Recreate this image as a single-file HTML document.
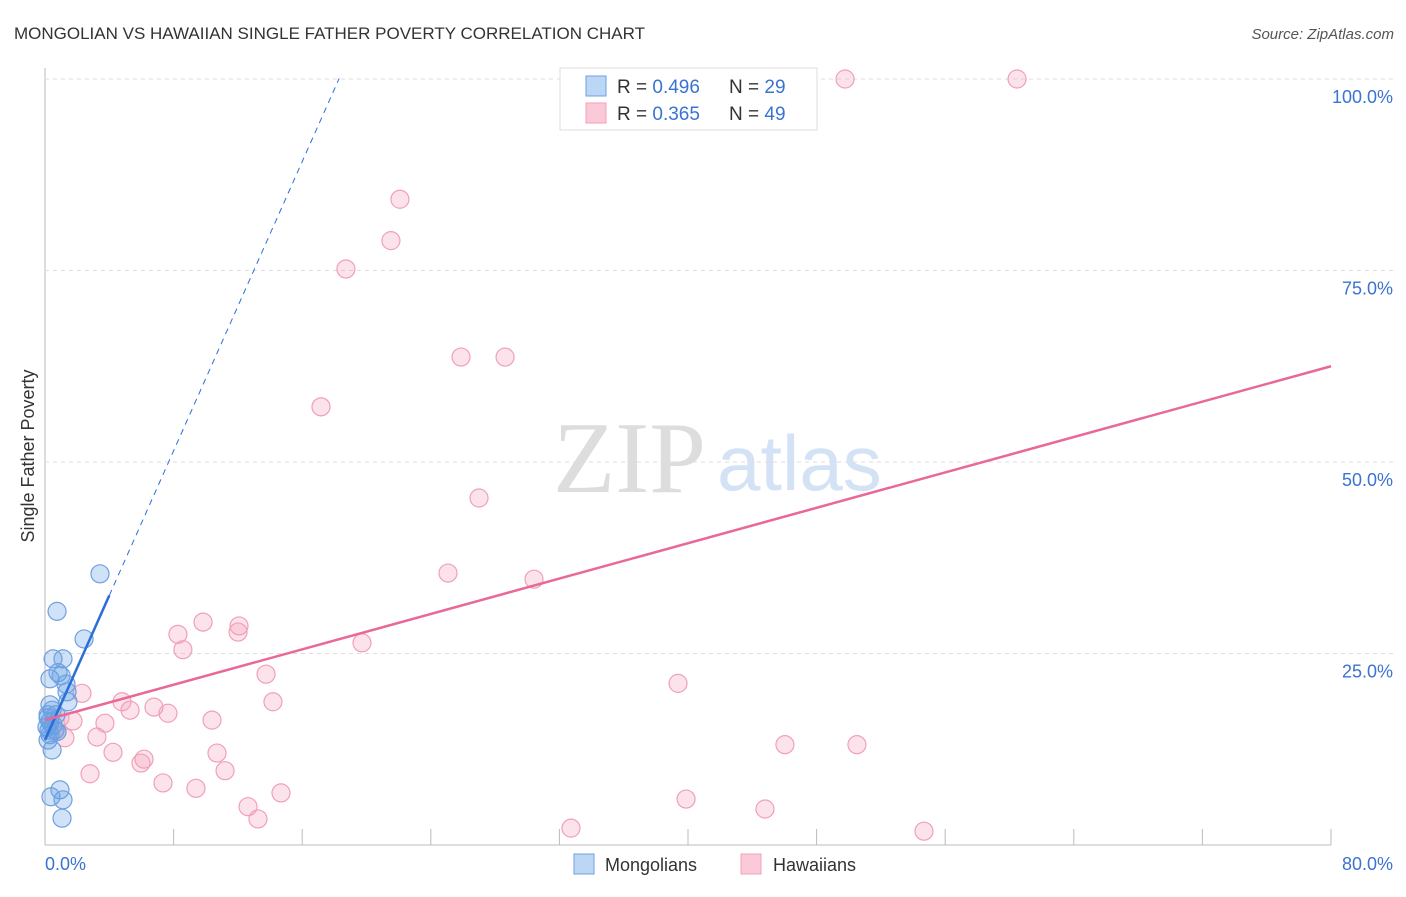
<!DOCTYPE html>
<html><head><meta charset="utf-8"><style>
body{margin:0;background:#fff;font-family:"Liberation Sans",sans-serif}
</style></head><body>
<svg id="c" width="1406" height="892" xmlns="http://www.w3.org/2000/svg">
<text x="14" y="39" font-size="17" fill="#333">MONGOLIAN VS HAWAIIAN SINGLE FATHER POVERTY CORRELATION CHART</text>
<text x="1394" y="39" font-size="15" fill="#555" font-style="italic" text-anchor="end">Source: ZipAtlas.com</text>
<text x="553" y="492" font-size="102" fill="#ddd" font-family="Liberation Serif,serif">ZIP</text>
<text x="717" y="490" font-size="78" fill="#d4e2f5">atlas</text>
<text transform="translate(34,456) rotate(-90)" font-size="18" fill="#333" text-anchor="middle">Single Father Poverty</text>
<g id="grid"></g><g id="pts"></g><g id="lines"></g>
<g>
<rect x="560" y="68" width="257" height="62" fill="#fff" stroke="#ddd"/>
<rect x="586" y="76" width="20" height="20" fill="#bcd6f6" stroke="#6fa0e0"/>
<rect x="586" y="103" width="20" height="20" fill="#fbcad8" stroke="#f0a0b8"/>
<text x="617" y="93" font-size="19" fill="#333">R = <tspan fill="#3a73d0">0.496</tspan></text>
<text x="729" y="93" font-size="19" fill="#333">N = <tspan fill="#3a73d0">29</tspan></text>
<text x="617" y="120" font-size="19" fill="#333">R = <tspan fill="#3a73d0">0.365</tspan></text>
<text x="729" y="120" font-size="19" fill="#333">N = <tspan fill="#3a73d0">49</tspan></text>
</g>
<g>
<rect x="574" y="854" width="20" height="20" fill="#bcd6f6" stroke="#6fa0e0"/>
<text x="605" y="871" font-size="18" fill="#333">Mongolians</text>
<rect x="741" y="854" width="20" height="20" fill="#fbcad8" stroke="#f0a0b8"/>
<text x="773" y="871" font-size="18" fill="#333">Hawaiians</text>
</g>
<text x="45" y="870" font-size="18" fill="#3a73d0">0.0%</text>
<text x="1393" y="870" font-size="18" fill="#3a73d0" text-anchor="end">80.0%</text>
</svg>
<script>
const yTicks=[25,50,75,100];
const yTickLabels=["25.0%","50.0%","75.0%","100.0%"];
const xTicks=[0,8,16,24,32,40,48,56,64,72,80];
const mongX=[3.42,0.75,2.43,0.5,1.12,0.31,0.81,1.0,1.31,1.37,1.43,0.31,0.44,0.19,0.31,0.12,0.62,0.31,0.19,0.44,0.37,0.93,1.12,1.06,0.5,0.68,0.19,0.75,0.25];
const mongY=[35.4,30.5,26.9,24.3,24.3,21.7,22.5,22.1,21.0,20.0,18.7,18.3,17.6,16.6,16.1,15.4,15.0,14.4,13.7,12.4,6.3,7.2,5.9,3.5,15.7,17.0,17.0,14.8,15.0];
const hawX=[49.77,60.47,22.08,21.52,18.72,25.88,28.62,17.17,27.0,25.07,30.42,9.83,12.07,8.27,12.01,8.58,19.72,13.75,2.3,4.79,14.18,5.29,6.78,7.65,10.39,3.73,1.74,0.93,3.23,1.24,0.75,4.23,10.7,6.16,5.97,2.8,11.2,7.34,9.39,14.68,12.63,13.25,39.38,46.03,50.51,39.88,44.79,32.72,54.68];
const hawY=[100,100,84.3,78.9,75.2,63.7,63.7,57.2,45.3,35.5,34.7,29.1,28.6,27.5,27.8,25.5,26.4,22.3,19.8,18.7,18.7,17.6,18.0,17.2,16.3,15.9,16.2,16.6,14.1,14.0,14.8,12.1,12.0,11.2,10.7,9.3,9.7,8.1,7.4,6.8,5.0,3.4,21.1,13.1,13.1,6.0,4.7,2.2,1.8];
const mongFit=[13.7,4.72], hawFit=[16.3,0.5775];
const X=v=>45+v*16.075, Y=v=>845-v*7.66;
const NS="http://www.w3.org/2000/svg";
function mk(t,a,p){const e=document.createElementNS(NS,t);for(const k in a)e.setAttribute(k,a[k]);p.appendChild(e);return e;}
const grid=document.getElementById('grid');
mk('line',{x1:45,y1:68,x2:45,y2:845,stroke:'#bbb'},grid);
mk('line',{x1:45,y1:845,x2:1331,y2:845,stroke:'#bbb'},grid);
xTicks.forEach((t,i)=>{if(i==0)return;const l=mk('line',{x1:X(t),y1:829,x2:X(t),y2:845,stroke:'#bbb'},grid);

});
yTicks.forEach((t,i)=>{const l=mk('line',{x1:45,y1:Y(t),x2:1395,y2:Y(t),stroke:'#ddd','stroke-dasharray':'4,4'},grid);


const tx=mk('text',{x:1393,y:Y(t)+24,'font-size':18,fill:'#3a73d0','text-anchor':'end'},grid);tx.textContent=yTickLabels[i];

});
const pts=document.getElementById('pts');
hawX.forEach((x,i)=>{const c=mk('circle',{cx:X(x),cy:Y(hawY[i]),r:9,fill:'rgba(245,160,185,0.3)',stroke:'#f0a0b8','stroke-width':1.2},pts);

});
mongX.forEach((x,i)=>{const c=mk('circle',{cx:X(x),cy:Y(mongY[i]),r:9,fill:'rgba(100,160,230,0.3)',stroke:'#6fa0e0','stroke-width':1.2},pts);

});
const lines=document.getElementById('lines');
const f=(fit,x)=>fit[0]+fit[1]*x;
let l=mk('line',{x1:X(0),y1:Y(f(mongFit,0)),x2:X(4),y2:Y(f(mongFit,4)),stroke:'#2a6fd6','stroke-width':2.5},lines);


l=mk('line',{x1:X(4),y1:Y(f(mongFit,4)),x2:X(18.3),y2:Y(f(mongFit,18.3)),stroke:'#2a6fd6','stroke-width':1,'stroke-dasharray':'6,5'},lines);


l=mk('line',{x1:X(0),y1:Y(f(hawFit,0)),x2:X(80),y2:Y(f(hawFit,80)),stroke:'#e8689a','stroke-width':2.5},lines);


</script>
</body></html>
